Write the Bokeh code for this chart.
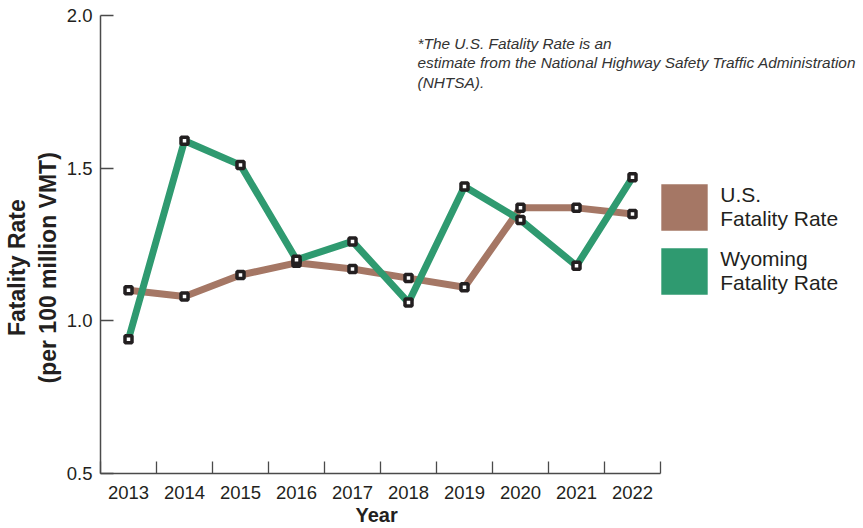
import math
from bokeh.plotting import figure
from bokeh.models import Range1d, FixedTicker, Label, Legend, LegendItem, NumeralTickFormatter, Title
from bokeh.embed import file_html
from bokeh.resources import INLINE

# ---------------- data ----------------
years = [2013, 2014, 2015, 2016, 2017, 2018, 2019, 2020, 2021, 2022]
us_rate = [1.10, 1.08, 1.15, 1.19, 1.17, 1.14, 1.11, 1.37, 1.37, 1.35]
wy_rate = [0.94, 1.59, 1.51, 1.20, 1.26, 1.06, 1.44, 1.33, 1.18, 1.47]
y_ticks = [0.5, 1.0, 1.5, 2.0]
series_names = ["U.S.\nFatality Rate", "Wyoming\nFatality Rate"]
y_title_lines = ["Fatality Rate", "(per 100 million VMT)"]
x_title = "Year"
note = ("*The U.S. Fatality Rate is an\n"
        "estimate from the National Highway Safety Traffic Administration\n"
        "(NHTSA).")

# ---------------- style ----------------
US_COLOR = "#a57765"
WY_COLOR = "#2f9a70"
INK = "#231f20"
AXIS = "#4a4a4a"
FONT = "Liberation Sans"
NAN = float("nan")

W, H = 863, 528
LEFT, TOP, BOTTOM = 100, 15, 55
SLOT = 56.0                      # px per year slot
FRAME_H = H - TOP - BOTTOM
FRAME_BOTTOM = H - BOTTOM
x0 = years[0] - 0.5
x1 = x0 + (W - LEFT) / SLOT
Y0, Y1 = y_ticks[0], y_ticks[-1]
PX_PER_Y = FRAME_H / (Y1 - Y0)


def px_x(px):
    return x0 + (px - LEFT) / SLOT


def px_y(py):
    return Y0 + (FRAME_BOTTOM - py) / PX_PER_Y


p = figure(width=W, height=H, output_backend="svg", toolbar_location=None,
           x_range=Range1d(x0, x1), y_range=Range1d(Y0, Y1),
           min_border_left=LEFT, min_border_right=0,
           min_border_top=TOP, min_border_bottom=BOTTOM)
p.outline_line_color = None
p.grid.visible = False
p.background_fill_color = "white"
p.border_fill_color = "white"

# x axis: labels at year centres, separator ticks between slots
xa = p.xaxis[0]
xa.ticker = FixedTicker(ticks=years,
                        minor_ticks=[y - 0.5 for y in years] + [years[-1] + 0.5])
xa.bounds = (x0, years[-1] + 0.5)
xa.major_tick_in = 0
xa.major_tick_out = 0
xa.minor_tick_in = 12
xa.minor_tick_out = 0
xa.minor_tick_line_color = AXIS
xa.minor_tick_line_width = 1.3
xa.axis_line_color = AXIS
xa.axis_line_width = 1.5
xa.major_label_text_font = FONT
xa.major_label_text_font_size = "18.5px"
xa.major_label_text_color = INK
xa.major_label_standoff = 12

ya = p.yaxis[0]
ya.ticker = FixedTicker(ticks=y_ticks)
ya.formatter = NumeralTickFormatter(format="0.0")
ya.major_tick_in = 13
ya.major_tick_out = 0
ya.major_tick_line_color = AXIS
ya.major_tick_line_width = 1.3
ya.minor_tick_line_color = None
ya.axis_line_color = AXIS
ya.axis_line_width = 1.5
ya.major_label_text_font = FONT
ya.major_label_text_font_size = "18.5px"
ya.major_label_text_color = INK
ya.major_label_standoff = 8

# series
p.line(years, us_rate, line_width=7, line_color=US_COLOR, line_join="round")
p.line(years, wy_rate, line_width=7, line_color=WY_COLOR, line_join="round")
p.scatter(years, us_rate, marker="square", size=7, fill_color="white",
          line_color=INK, line_width=3.5)
p.scatter(years, wy_rate, marker="square", size=7, fill_color="white",
          line_color=INK, line_width=3.5)

# legend swatches (renderers with no drawable data, used only by the legend)
us_sw = p.quad(left=[NAN], right=[NAN], top=[NAN], bottom=[NAN],
               fill_color=US_COLOR, line_color=None)
wy_sw = p.quad(left=[NAN], right=[NAN], top=[NAN], bottom=[NAN],
               fill_color=WY_COLOR, line_color=None)
legend = Legend(items=[LegendItem(label=series_names[0], renderers=[us_sw]),
                       LegendItem(label=series_names[1], renderers=[wy_sw])],
                location=(655.25 - LEFT, FRAME_BOTTOM - 299.75),
                glyph_width=58, glyph_height=58, spacing=6,
                padding=0, margin=0, border_line_color=None,
                background_fill_alpha=0,
                label_text_font=FONT, label_text_font_size="21px",
                label_text_color=INK, label_standoff=7,
                label_text_line_height=1.35)
p.add_layout(legend)

# y axis title: two centred lines (inner line first, it sits next to the axis)
p.add_layout(Title(text=y_title_lines[1], align="left", offset=FRAME_BOTTOM - 383, standoff=5,
                   text_font=FONT, text_font_style="bold", text_font_size="23px",
                   text_color=INK), "left")
p.add_layout(Title(text=y_title_lines[0], align="left", offset=FRAME_BOTTOM - 335.5, standoff=2,
                   text_font=FONT, text_font_style="bold", text_font_size="23px",
                   text_color=INK), "left")
# x axis title
p.add_layout(Title(text=x_title, align="left", offset=377 - 22 - LEFT, standoff=0,
                   text_font=FONT, text_font_style="bold", text_font_size="20px",
                   text_color=INK), "below")

# note
p.add_layout(Label(x=px_x(417), y=px_y(34), text=note,
                   text_align="left", text_baseline="top",
                   text_font=FONT, text_font_style="italic", text_font_size="15.4px",
                   text_color="#333333", text_line_height=1.15))

open("out.html", "w").write(file_html(p, INLINE))
